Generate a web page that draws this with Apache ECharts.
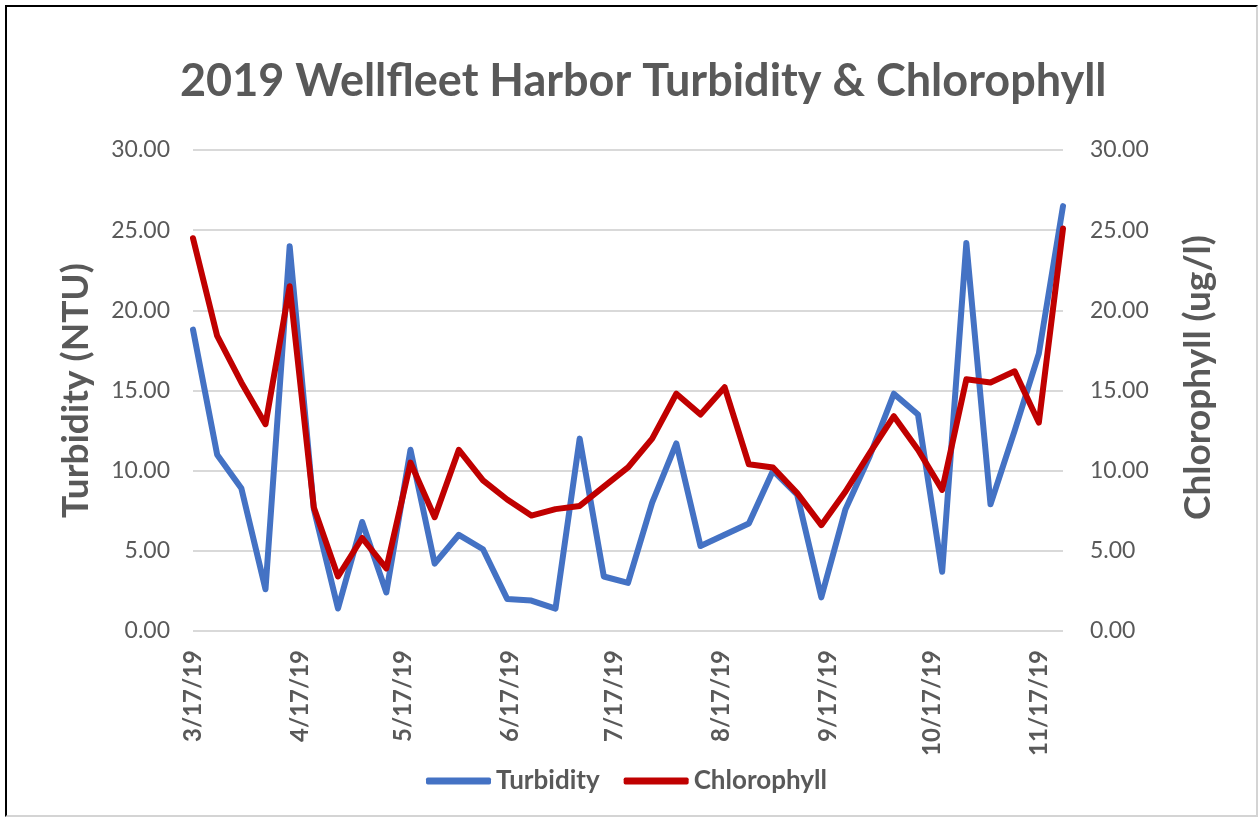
<!DOCTYPE html>
<html>
<head>
<meta charset="utf-8">
<script src="https://cdn.jsdelivr.net/npm/echarts@6/dist/echarts.min.js"></script>
<style>
  html, body { margin: 0; padding: 0; background: #fff; }
  #frame { position: absolute; left: 5px; top: 5px; width: 1253px; height: 812px;
           border-left: 2px solid #000; border-top: 2px solid #000;
           border-right: 2px solid #d4d4d4; border-bottom: 2px solid #d4d4d4; box-sizing: border-box; }
  #chart { position: absolute; left: 0; top: 0; width: 1260px; height: 819px; }
</style>
</head>
<body>
<div id="frame"></div>
<div id="chart"></div>
<script>
// Sample dates (weekly)
const sampleDates = ['3/17/19','3/24/19','3/31/19','4/7/19','4/14/19','4/21/19','4/28/19','5/5/19','5/12/19','5/19/19','5/26/19','6/2/19','6/9/19','6/16/19','6/23/19','6/30/19','7/7/19','7/14/19','7/21/19','7/28/19','8/4/19','8/11/19','8/18/19','8/25/19','9/1/19','9/8/19','9/15/19','9/22/19','9/29/19','10/6/19','10/13/19','10/20/19','10/27/19','11/3/19','11/10/19','11/17/19','11/24/19'];
// Turbidity (NTU)
const turbidity = [18.8, 11.0, 8.9, 2.6, 24.0, 7.6, 1.4, 6.8, 2.4, 11.3, 4.2, 6.0, 5.1, 2.0, 1.9, 1.4, 12.0, 3.4, 3.0, 8.0, 11.7, 5.3, 6.0, 6.7, 10.0, 8.5, 2.1, 7.6, 10.9, 14.8, 13.5, 3.7, 24.2, 7.9, 12.5, 17.3, 26.5];
// Chlorophyll (ug/l)
const chlorophyll = [24.5, 18.4, 15.5, 12.9, 21.5, 7.7, 3.4, 5.8, 3.9, 10.5, 7.1, 11.3, 9.4, 8.2, 7.2, 7.6, 7.8, 9.0, 10.2, 12.0, 14.8, 13.5, 15.2, 10.4, 10.2, 8.6, 6.6, 8.7, 11.1, 13.4, 11.3, 8.8, 15.7, 15.5, 16.2, 13.0, 25.1];
// Axis range and labelled tick dates
const axisStart = '2019-03-17';
const axisEnd = '2019-11-24';
const tickDay = 17;

// daily category list for the date axis
const dayCats = [];
{
  const d = new Date(axisStart + 'T00:00:00');
  const e = new Date(axisEnd + 'T00:00:00');
  while (d <= e) {
    dayCats.push((d.getMonth() + 1) + '/' + d.getDate() + '/' + String(d.getFullYear()).slice(2));
    d.setDate(d.getDate() + 1);
  }
}
const isTick = (i, v) => String(v).split('/')[1] === String(tickDay);

const FONT = 'Lato';
const GRAY = '#595959';

const chart = echarts.init(document.getElementById('chart'));
chart.setOption({
  animation: false,
  backgroundColor: 'transparent',
  title: {
    text: '2019 Wellfleet Harbor Turbidity & Chlorophyll',
    left: 180,
    top: 59,
    padding: 0,
    textStyle: { fontFamily: FONT, fontWeight: 'bold', fontSize: 45, color: GRAY }
  },
  legend: {
    bottom: 20,
    left: 421,
    itemWidth: 65,
    itemHeight: 7,
    itemGap: 24,
    textStyle: { fontFamily: FONT, fontWeight: 'bold', fontSize: 26, color: GRAY },
    data: [
      { name: 'Turbidity', icon: 'roundRect' },
      { name: 'Chlorophyll', icon: 'roundRect' }
    ]
  },
  grid: { left: 193, right: 197, top: 150, bottom: 188 },
  xAxis: {
    type: 'category',
    data: dayCats,
    boundaryGap: false,
    axisLine: { show: false },
    axisTick: { show: false },
    axisLabel: {
      interval: isTick,
      rotate: 90,
      margin: 19,
      fontFamily: FONT, fontWeight: 'bold', fontSize: 24, color: GRAY
    },
    splitLine: { show: false }
  },
  yAxis: [
    {
      type: 'value', min: 0, max: 30, interval: 5,
      name: 'Turbidity (NTU)', nameLocation: 'middle', nameRotate: 90, nameGap: 98,
      nameTextStyle: { fontFamily: FONT, fontWeight: 'bold', fontSize: 37, color: GRAY },
      axisLine: { show: false }, axisTick: { show: false },
      axisLabel: { margin: 23, fontFamily: FONT, fontSize: 23, color: GRAY, formatter: v => v.toFixed(2) },
      splitLine: { lineStyle: { color: '#d9d9d9', width: 2 } }
    },
    {
      type: 'value', min: 0, max: 30, interval: 5,
      name: 'Chlorophyll (ug/l)', nameLocation: 'middle', nameRotate: 90, nameGap: 117,
      nameTextStyle: { fontFamily: FONT, fontWeight: 'bold', fontSize: 37, color: GRAY, padding: [0, 0, 0, 26] },
      axisLine: { show: false }, axisTick: { show: false },
      axisLabel: { margin: 27, fontFamily: FONT, fontSize: 23, color: GRAY, formatter: v => v.toFixed(2) },
      splitLine: { show: false }
    }
  ],
  series: [
    {
      name: 'Turbidity', type: 'line', yAxisIndex: 0,
      showSymbol: false, symbol: 'none',
      itemStyle: { color: '#4472C4' },
      lineStyle: { color: '#4472C4', width: 6, cap: 'round', join: 'round' },
      data: sampleDates.map((d, i) => [d, turbidity[i]])
    },
    {
      name: 'Chlorophyll', type: 'line', yAxisIndex: 1,
      showSymbol: false, symbol: 'none',
      itemStyle: { color: '#C00000' },
      lineStyle: { color: '#C00000', width: 6, cap: 'round', join: 'round' },
      data: sampleDates.map((d, i) => [d, chlorophyll[i]])
    }
  ]
});
</script>
</body>
</html>
